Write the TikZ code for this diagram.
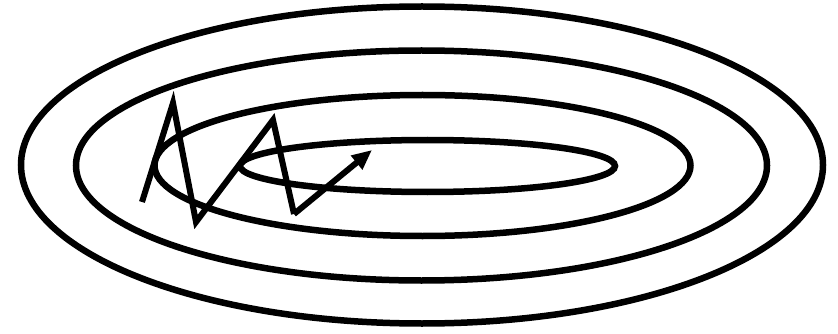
\documentclass[tikz,border=0pt]{standalone}
\usetikzlibrary{arrows.meta}
\begin{document}
\begin{tikzpicture}[x=1pt,y=-1pt,
  contour/.style={draw=black,line width=6.5pt},
  pathline/.style={draw=black,line width=6pt,line join=miter}]
\useasboundingbox (0,0) rectangle (838,334);
\draw[contour] (422,165) ellipse [x radius=401, y radius=158.5];
\draw[contour] (421.5,165.5) ellipse [x radius=345.5, y radius=115];
\draw[contour] (422.5,165.5) ellipse [x radius=268, y radius=70.5];
\draw[contour] (427.5,166) ellipse [x radius=187.5, y radius=26];
\coordinate (p0) at (142,202);
\coordinate (p1) at (173,103);
\coordinate (p2) at (196,222);
\coordinate (p3) at (273,120);
\coordinate (p4) at (294,214);
\coordinate (p5) at (372,150);
\draw[pathline] (p0) -- (p1) -- (p2) -- (p3) -- (p4);
\draw[pathline,-{Triangle[length=20pt,width=17pt]}] (p4) -- (p5);
\end{tikzpicture}
\end{document}
